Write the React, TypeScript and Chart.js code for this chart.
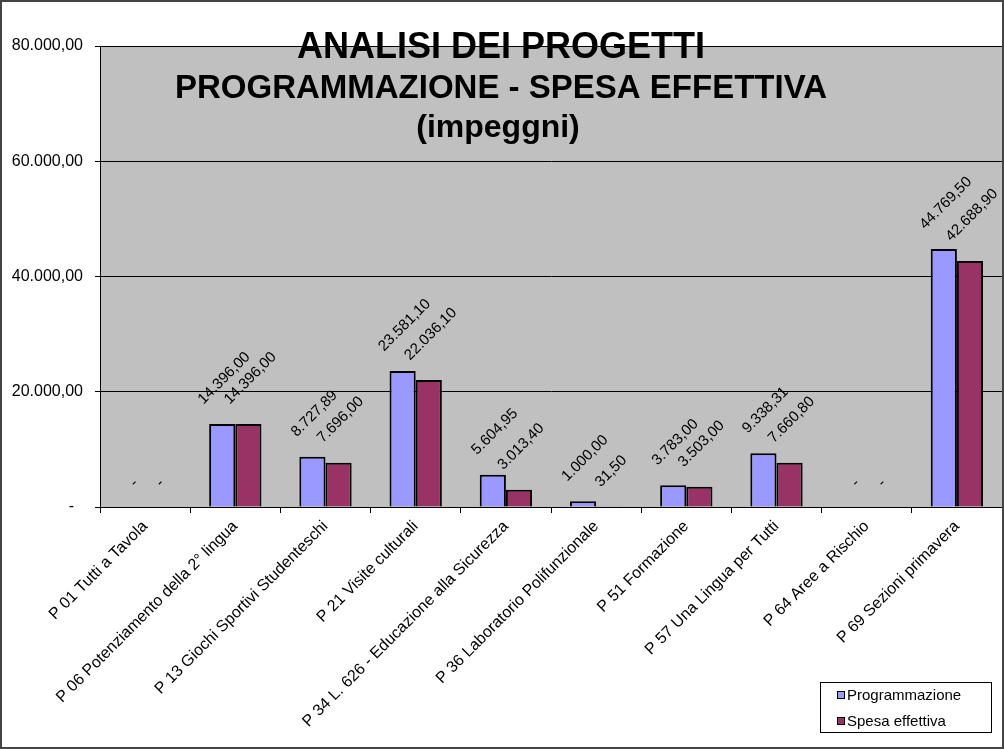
import React, { useEffect, useRef } from "react";
import { Chart, registerables } from "chart.js";

Chart.register(...registerables);

const categories = [
  "P 01 Tutti a Tavola",
  "P 06 Potenziamento della 2° lingua",
  "P 13 Giochi Sportivi Studenteschi",
  "P 21 Visite culturali",
  "P 34 L. 626 - Educazione alla Sicurezza",
  "P 36 Laboratorio Polifunzionale",
  "P 51 Formazione",
  "P 57 Una Lingua per Tutti",
  "P 64 Aree a Rischio",
  "P 69 Sezioni primavera",
];

const programmazione = [0, 14396.0, 8727.89, 23581.1, 5604.95, 1000.0, 3783.0, 9338.31, 0, 44769.5];
const spesaEffettiva = [0, 14396.0, 7696.0, 22036.1, 3013.4, 31.5, 3503.0, 7660.8, 0, 42688.9];

const seriesNames = ["Programmazione", "Spesa effettiva"];
const seriesColors = ["#9999FF", "#993366"];

const titleLines = ["ANALISI DEI PROGETTI", "PROGRAMMAZIONE - SPESA EFFETTIVA", "(impeggni)"];

const yMax = 80000;
const yStep = 20000;

const FONT = "Arial, 'Liberation Sans', sans-serif";

function fmt(v: number): string {
  if (v === 0) return "-";
  const [i, d] = v.toFixed(2).split(".");
  const withDots = i.replace(/\B(?=(\d{3})+(?!\d))/g, ".");
  return withDots + "," + d;
}

const bgPlugin = {
  id: "bgPlugin",
  beforeDraw(chart: any) {
    const { ctx, chartArea: a } = chart;
    ctx.save();
    ctx.fillStyle = "#ffffff";
    ctx.fillRect(0, 0, chart.width, chart.height);
    ctx.fillStyle = "#C0C0C0";
    ctx.fillRect(a.left, a.top, a.right - a.left, a.bottom - a.top);
    ctx.restore();
  },
};

const labelPlugin = {
  id: "labelPlugin",
  afterDatasetsDraw(chart: any) {
    const { ctx } = chart;
    ctx.save();
    ctx.font = `15px ${FONT}`;
    ctx.fillStyle = "#000";
    ctx.textAlign = "center";
    ctx.textBaseline = "middle";
    chart.data.datasets.forEach((ds: any, di: number) => {
      const meta = chart.getDatasetMeta(di);
      meta.data.forEach((el: any, i: number) => {
        const txt = fmt(ds.data[i]);
        const w = ctx.measureText(txt).width;
        const off = ((w + 15) * 0.7071) / 2 + 17;
        ctx.save();
        ctx.translate(el.x + 2, el.y - off);
        ctx.rotate(-Math.PI / 4);
        ctx.fillText(txt, 0, 0);
        ctx.restore();
      });
    });
    ctx.restore();
  },
};

const overlayPlugin = {
  id: "overlayPlugin",
  afterDraw(chart: any) {
    const { ctx } = chart;
    ctx.save();
    // Title
    ctx.fillStyle = "#000";
    ctx.textAlign = "center";
    ctx.textBaseline = "middle";
    const cx = 501;
    ctx.font = `bold 36px ${FONT}`;
    ctx.fillText(titleLines[0], cx, 48);
    ctx.font = `bold 33px ${FONT}`;
    ctx.fillText(titleLines[1], cx, 89);
    ctx.font = `bold 32px ${FONT}`;
    ctx.fillText(titleLines[2], cx - 3, 128);

    // Legend
    const lx = 820, ly = 682, lw = 171, lh = 50;
    ctx.fillStyle = "#fff";
    ctx.fillRect(lx, ly, lw, lh);
    ctx.strokeStyle = "#000";
    ctx.lineWidth = 1;
    ctx.strokeRect(lx + 0.5, ly + 0.5, lw, lh);
    ctx.font = `15px ${FONT}`;
    ctx.textAlign = "left";
    seriesNames.forEach((n, i) => {
      const yy = ly + 13 + i * 26;
      ctx.fillStyle = seriesColors[i];
      ctx.fillRect(lx + 17, yy - 4, 8, 8);
      ctx.strokeStyle = "#000";
      ctx.lineWidth = 1;
      ctx.strokeRect(lx + 17.5, yy - 3.5, 7, 7);
      ctx.fillStyle = "#000";
      ctx.fillText(n, lx + 27, yy + 1);
    });

    // Outer border
    ctx.strokeStyle = "#444";
    ctx.lineWidth = 2;
    ctx.strokeRect(1, 1, chart.width - 2, chart.height - 2);
    ctx.restore();
  },
};

export default function App() {
  const ref = useRef<HTMLCanvasElement>(null);
  useEffect(() => {
    document.body.style.margin = "0";
    const chart = new Chart(ref.current!, {
      type: "bar",
      data: {
        labels: categories,
        datasets: [
          {
            label: seriesNames[0],
            data: programmazione,
            backgroundColor: seriesColors[0],
            borderColor: "#000",
            borderWidth: 2,
            categoryPercentage: 0.58,
            barPercentage: 1,
          },
          {
            label: seriesNames[1],
            data: spesaEffettiva,
            backgroundColor: seriesColors[1],
            borderColor: "#000",
            borderWidth: 2,
            categoryPercentage: 0.58,
            barPercentage: 1,
          },
        ],
      },
      options: {
        responsive: false,
        animation: false,
        layout: { padding: { left: 0, right: 2, top: 46, bottom: 0 } },
        plugins: { legend: { display: false }, title: { display: false }, tooltip: { enabled: false } },
        scales: {
          x: {
            grid: { display: true, drawOnChartArea: false, offset: true, color: "#000", tickLength: 6 },
            border: { display: true, color: "#000", width: 1 },
            ticks: {
              minRotation: 45,
              maxRotation: 45,
              autoSkip: false,
              padding: 4,
              color: "#000",
              font: { family: FONT, size: 16 },
            },
            afterFit(scale: any) {
              scale.height = 242;
            },
          },
          y: {
            min: 0,
            max: yMax,
            ticks: {
              stepSize: yStep,
              color: "#000",
              padding: 12,
              font: { family: FONT, size: 16 },
              callback: (v: any) => (Number(v) === 0 ? "-  " : fmt(Number(v))),
            },
            grid: { color: "#000", lineWidth: 1, tickLength: 5 },
            border: { display: true, color: "#000", width: 1 },
            afterFit(scale: any) {
              scale.width = 100;
            },
          },
        },
      },
      plugins: [bgPlugin, labelPlugin, overlayPlugin],
    });
    return () => chart.destroy();
  }, []);
  return <canvas ref={ref} width={1004} height={749} style={{ display: "block" }} />;
}
